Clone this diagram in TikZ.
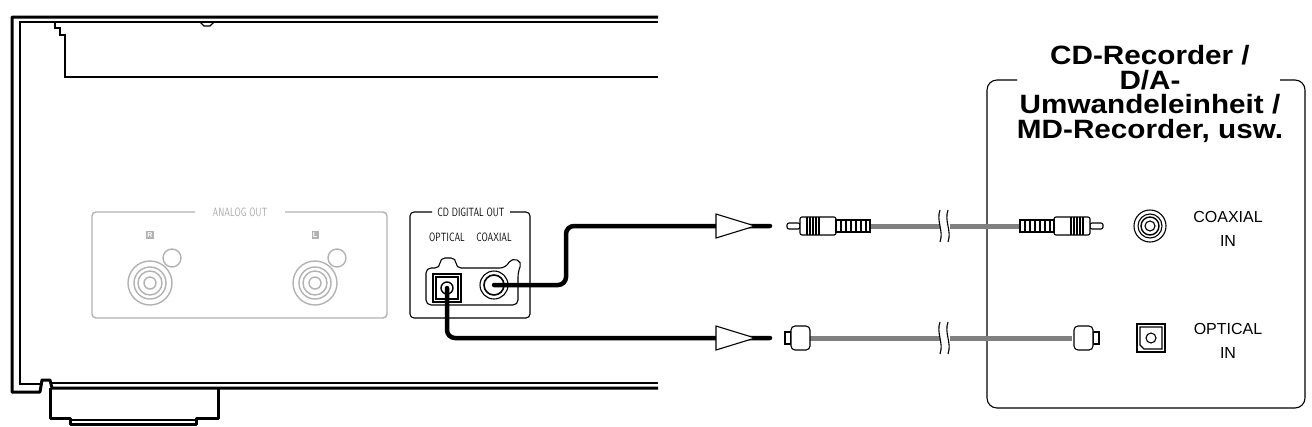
\documentclass[tikz,border=0pt]{standalone}
\usepackage{fontspec}
\setmainfont{Liberation Sans}
\usetikzlibrary{calc}
\newcommand\hsc[1]{\scalebox{1.12}[1]{#1}}
\newcommand\vsc[1]{\scalebox{0.85}[1.2]{#1}}
\begin{document}
\begin{tikzpicture}[x=1pt,y=-1pt,
  chas/.style={line width=3pt,line join=round},
  thin/.style={line width=1.1pt},
  lg/.style={draw=black!30,line width=1.4pt},
  cab/.style={line width=4.5pt,line cap=round,rounded corners=8pt},
  gcab/.style={draw=black!50,line width=5pt},
  plug/.style={draw,fill=white,line width=1.1pt},
  lbl/.style={font=\fontsize{10}{11}\selectfont\sffamily},
  tt/.style={font=\fontsize{26.5}{24.5}\selectfont\bfseries,align=center},
  inl/.style={font=\fontsize{16}{24}\selectfont,align=center}]
\useasboundingbox (0,0) rectangle (1312,426);
% chassis
\draw[chas] (658,17) -- (12,17) -- (12,392) -- (40,392) -- (42,380) -- (50,380) -- (52,388) -- (658,388);
\draw[thin] (658,22) -- (20,22) -- (20,384) -- (40,384);
\draw[thin] (658,383) -- (52,383);
\draw[thin] (55,22) -- (55,28) -- (60,28) -- (60,35) -- (65,35) -- (65,77) -- (658,77);
\draw[thin] (200,22) -- (204,26) -- (210,26) -- (214,22);
\draw[chas] (50,388) -- (50,418) -- (70,418) -- (70,424) -- (196,424) -- (196,418) -- (218,418) -- (218,388);
\draw[thin] (70,420) -- (196,420);
% analog
\draw[lg,rounded corners=4pt] (195,212) -- (92,212) -- (92,318) -- (387,318) -- (387,212) -- (285,212);
\node[lbl,text=black!35] (ana) at (240,212) {\vsc{ANALOG OUT}};
\foreach \x/\t in {150/R,315/L}{
  \node[draw=black!30,fill=black!30,text=white,inner sep=1pt,font=\fontsize{7}{7}\selectfont\bfseries] at (\x,235) {\t};
  \draw[lg] (\x+22,258) circle (9);
  \draw[lg,fill=white] (\x,283) circle (22);
  \draw[lg] (\x,283) circle (16) (\x,283) circle (12) (\x,283) circle (6);
}
% digital out
\draw[thin,rounded corners=4pt] (432,212) -- (410,212) -- (410,318) -- (530,318) -- (530,212) -- (510,212);
\node[lbl] (cdo) at (471,212) {\vsc{CD DIGITAL OUT}};
\node[lbl] (opt) at (447,237) {\vsc{OPTICAL}};
\node[lbl] (cox) at (494,237) {\vsc{COAXIAL}};
\draw[thin,rounded corners=5pt] (435,268) -- (440,268) -- (440,258) -- (456,258) -- (456,268) -- (505,268) -- (512,258) -- (522,262) -- (518,272) -- (518,305) -- (426,305) -- (426,268) -- (435,268);
\draw[thin] (433,274) rectangle (461,302) (436,277) rectangle (458,299);
\draw[line width=1.4pt] (447,288) circle (6);
\draw[thin] (494,285) circle (14);
\draw[line width=1.6pt] (494,285) circle (10);
\coordinate (coxo) at (494,285);
\coordinate (opto) at (447,288);
\coordinate (c1) at (770,226);
\coordinate (o1) at (770,338);
\draw[cab] (coxo) -- (566,285) -- (566,226) -- (c1);
\draw[cab] (opto) -- (447,338) -- (o1);
\foreach \y in {226,338}
  \draw[thin,fill=white] (716,\y-12) -- (755,\y) -- (716,\y+12) -- cycle;
% right box
\draw[thin,rounded corners=10pt] (1017,80) -- (987,80) -- (987,408) -- (1305,408) -- (1305,80) -- (1280,80);
% cables
\draw[gcab] (870,226) -- (1020,226);
\draw[gcab] (808,338) -- (1072,338);
\foreach \y in {226,338}{
  \fill[white] (940,\y-16) rectangle (950,\y+16);
  \draw[thin] (940,\y-16) .. controls (936,\y-5) and (944,\y+5) .. (940,\y+16);
  \draw[thin] (948,\y-16) .. controls (944,\y-5) and (952,\y+5) .. (948,\y+16);
}
% coax plugs
\draw[plug,rounded corners=2pt] (787,223) rectangle (800,229);
\draw[plug,rounded corners=2pt] (800,217) rectangle (836,235);
\foreach \x in {807,810,813,816,819} \draw[thin] (\x,217) -- (\x,235);
\draw[plug] (836,220) rectangle (870,232);
\foreach \x in {841,846,851,856,861,866} \draw[thin] (\x,220) -- (\x,232);
\draw[plug,rounded corners=2pt] (1090,223) rectangle (1103,229);
\draw[plug,rounded corners=2pt] (1054,217) rectangle (1090,235);
\foreach \x in {1071,1074,1077,1080,1083} \draw[thin] (\x,217) -- (\x,235);
\draw[plug] (1020,220) rectangle (1054,232);
\foreach \x in {1025,1030,1035,1040,1045,1050} \draw[thin] (\x,220) -- (\x,232);
% optical plugs
\draw[plug] (785,332) rectangle (791,344);
\draw[plug,rounded corners=4pt] (791,326) rectangle (810,350);
\draw[plug] (1093,332) rectangle (1099,344);
\draw[plug,rounded corners=4pt] (1074,326) rectangle (1093,350);
% jacks in
\draw[thin] (1150,226) circle (16) (1150,226) circle (12);
\draw[line width=1.4pt] (1150,226) circle (9);
\draw[thin] (1150,226) circle (5);
\draw[thin] (1137,324) rectangle (1165,352);
\draw[thin] (1140,327) -- (1162,327) -- (1162,349) -- (1144,349) -- (1140,345) -- cycle;
\draw[thin] (1151,338) circle (5);
\node[inl] (cin) at (1228,229) {COAXIAL\\IN};
\node[inl] (oin) at (1228,341) {OPTICAL\\IN};
\node[tt] (title) at (1150,94) {\hsc{CD-Recorder /}\\\hsc{D/A-}\\\hsc{Umwandeleinheit /}\\\hsc{MD-Recorder, usw.}};
\end{tikzpicture}
\end{document}
